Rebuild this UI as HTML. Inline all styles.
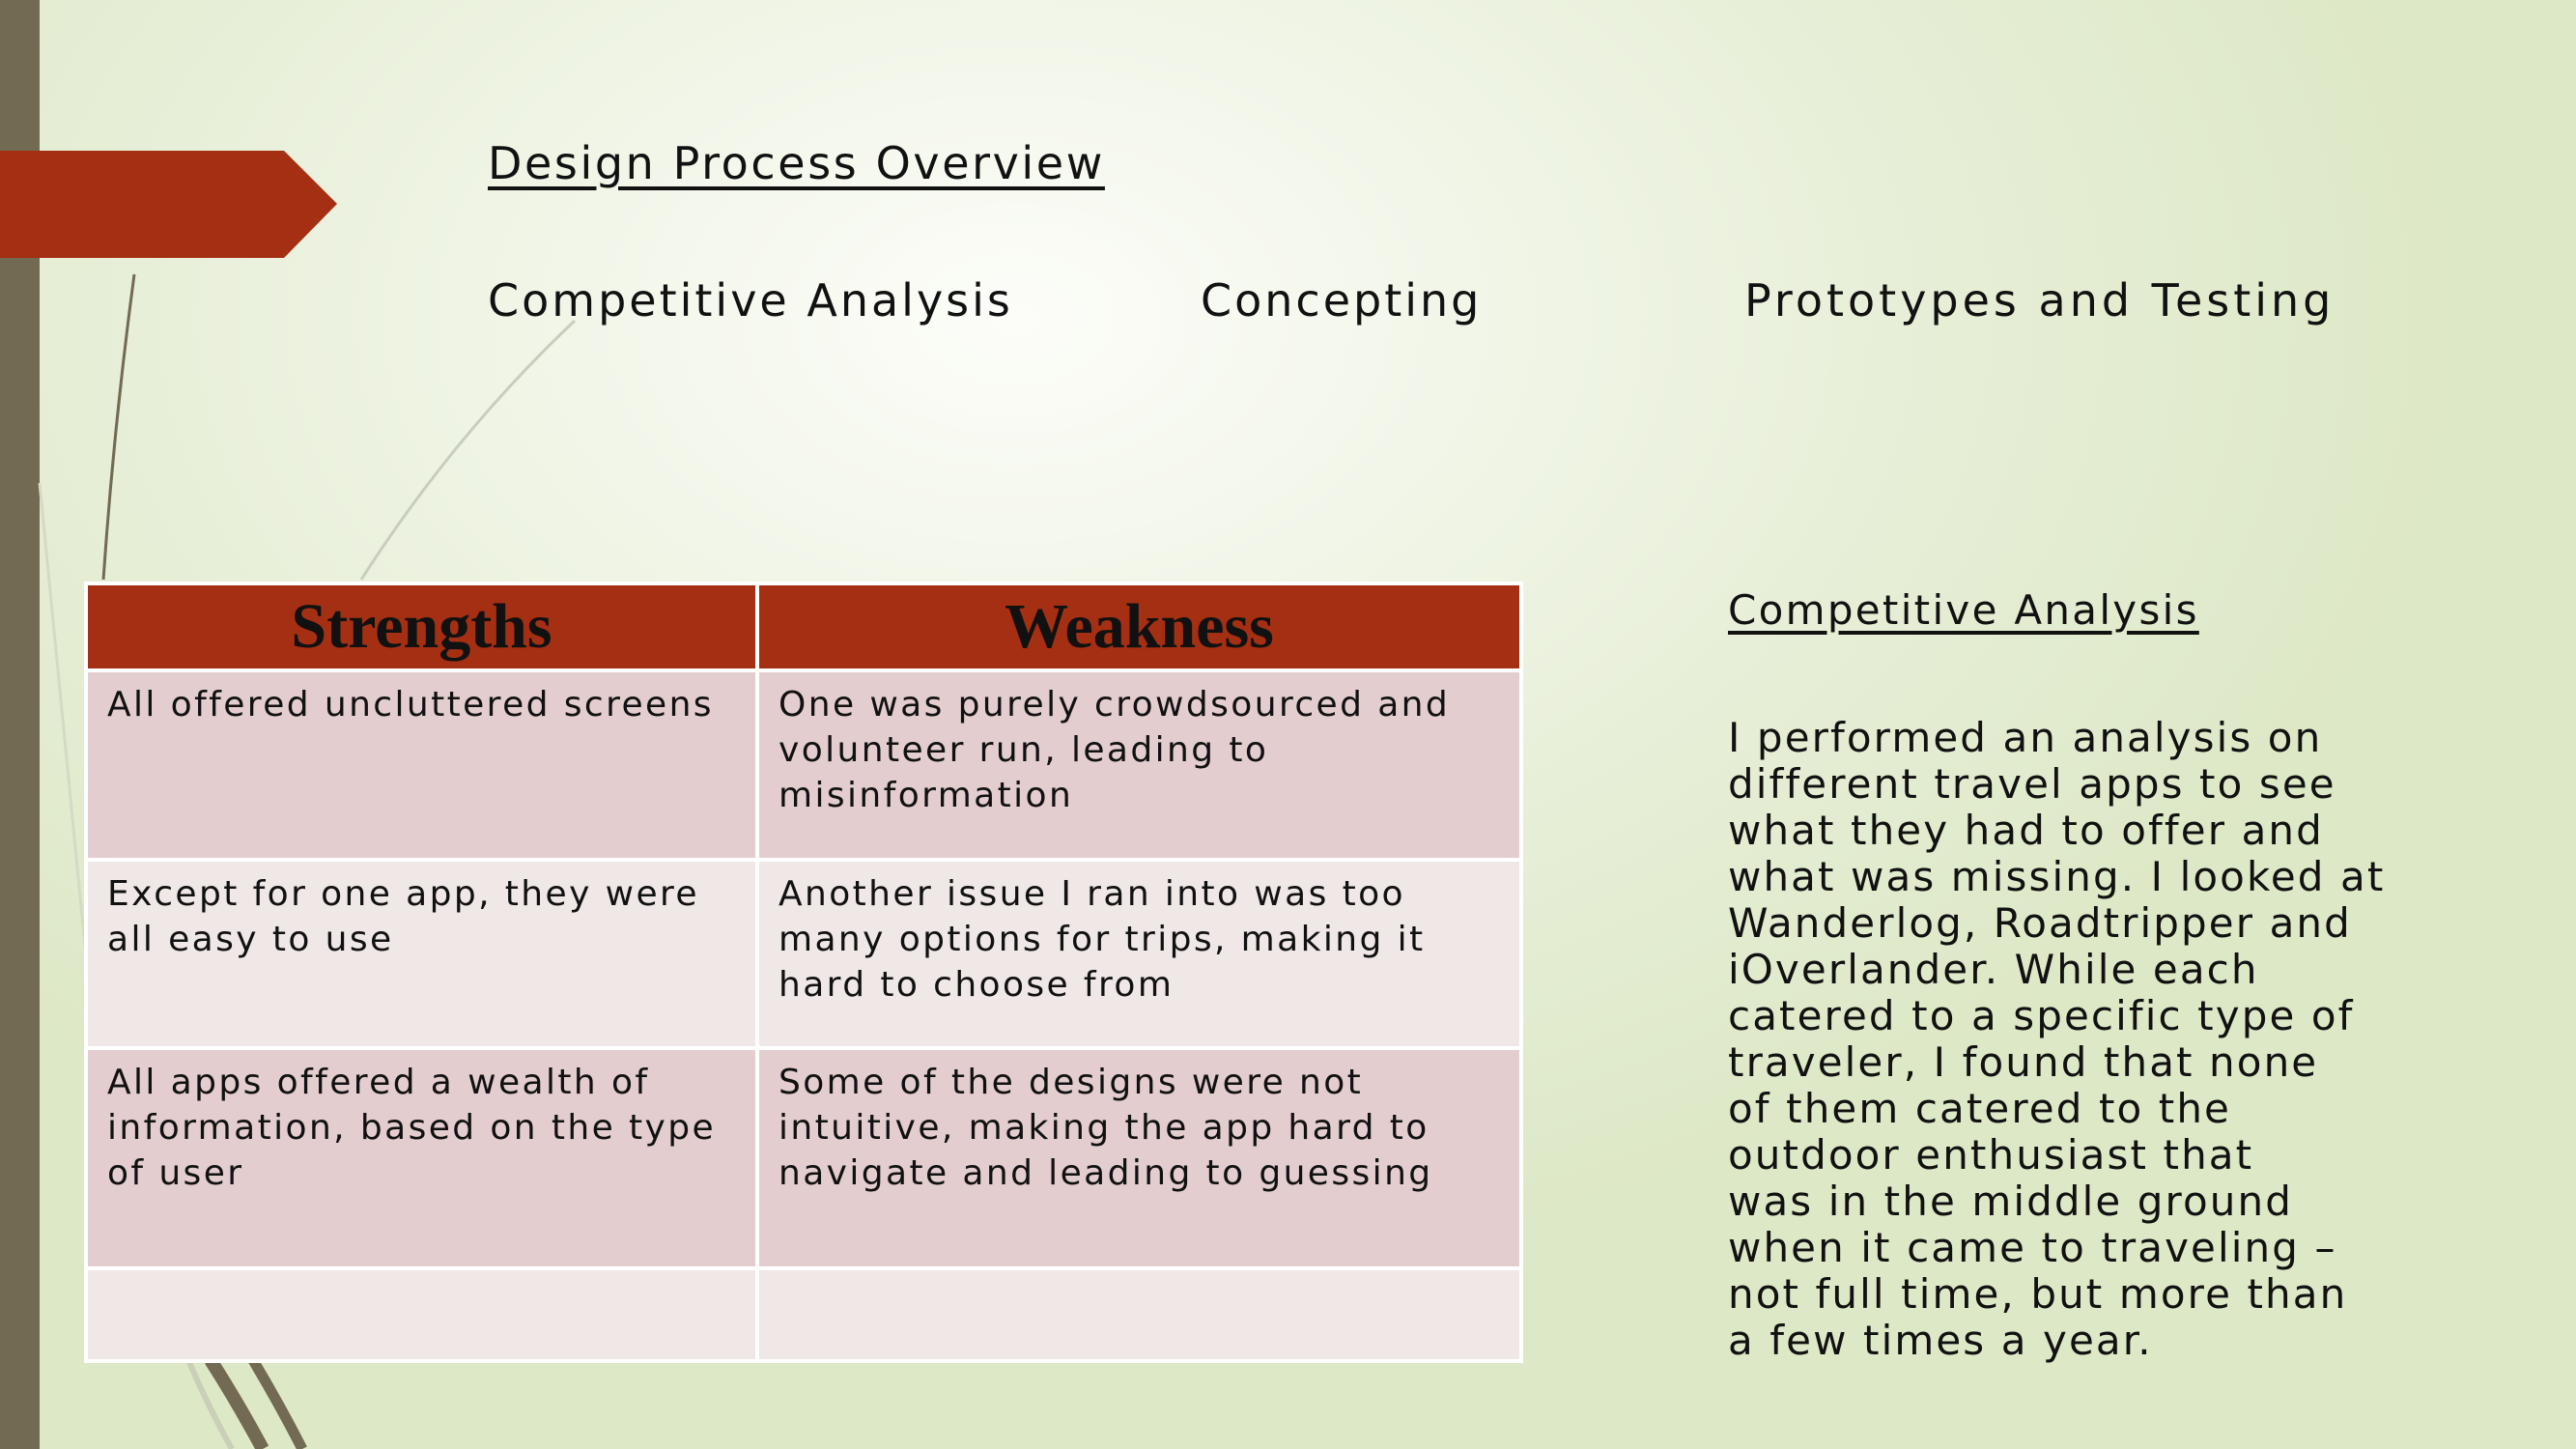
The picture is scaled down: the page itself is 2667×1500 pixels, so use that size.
<!DOCTYPE html>
<html><head><meta charset="utf-8"><style>
*{margin:0;padding:0;box-sizing:border-box}
body{width:2667px;height:1500px;overflow:hidden;position:relative;font-family:"DejaVu Sans","Liberation Sans",sans-serif;color:#111;
background:radial-gradient(ellipse 1500px 1000px at 1050px 330px,#fcfdf9 0%,#f2f6e9 30%,#e6eed6 65%,#dde8c6 100%);}
.a{position:absolute;white-space:nowrap}
.h{font-size:46px;letter-spacing:3px}
td{vertical-align:top;font-size:36px;letter-spacing:2.4px;line-height:47px;padding:10px 20px;}
</style></head><body>
<svg class="a" style="left:0;top:0" width="2667" height="1500">
<rect x="0" y="0" width="41" height="1500" fill="#726a52"/>
<path d="M139 284 Q118 440 107 600" stroke="#726a52" stroke-width="3" fill="none"/>
<path d="M595 332 Q470 450 374 600" stroke="#c9cdbd" stroke-width="3" fill="none"/>
<path d="M41 500 Q60 700 90 1000" stroke="#d4dac4" stroke-width="3" fill="none"/>
<path d="M218 1408 Q245 1450 272 1500" stroke="#726a52" stroke-width="14" fill="none"/>
<path d="M262 1408 Q290 1455 313 1500" stroke="#726a52" stroke-width="11" fill="none"/>
<path d="M195 1408 Q215 1455 240 1500" stroke="#c9cfb8" stroke-width="6" fill="none"/>
<polygon points="0,156 294,156 349,211 294,267 0,267" fill="#a52f12"/>
</svg>
<div class="a h" style="left:505px;top:142px;letter-spacing:2.6px;text-decoration:underline;text-underline-offset:8px">Design Process Overview</div>
<div class="a h" style="left:505px;top:284px">Competitive Analysis</div>
<div class="a h" style="left:1243px;top:284px">Concepting</div>
<div class="a h" style="left:1806px;top:284px;letter-spacing:4px">Prototypes and Testing</div>

<table class="a" style="left:87px;top:602px;width:1486px;height:805px;border-collapse:collapse;table-layout:fixed">
<colgroup><col style="width:695px"><col style="width:791px"></colgroup>
<tr style="height:90px;background:#a52f12">
<th style="font-family:'Liberation Serif',serif;font-size:66px;font-weight:bold;border:4px solid #fff;color:#111">Strengths</th>
<th style="font-family:'Liberation Serif',serif;font-size:66px;font-weight:bold;border:4px solid #fff;color:#111">Weakness</th></tr>
<tr style="height:196px;background:#e3cdcf"><td style="border:4px solid #fff">All offered uncluttered screens</td><td style="border:4px solid #fff">One was purely crowdsourced and<br>volunteer run, leading to<br>misinformation</td></tr>
<tr style="height:195px;background:#f0e7e7"><td style="border:4px solid #fff">Except for one app, they were<br>all easy to use</td><td style="border:4px solid #fff">Another issue I ran into was too<br>many options for trips, making it<br>hard to choose from</td></tr>
<tr style="height:228px;background:#e3cdcf"><td style="border:4px solid #fff">All apps offered a wealth of<br>information, based on the type<br>of user</td><td style="border:4px solid #fff">Some of the designs were not<br>intuitive, making the app hard to<br>navigate and leading to guessing</td></tr>
<tr style="height:96px;background:#f0e7e7"><td style="border:4px solid #fff"></td><td style="border:4px solid #fff"></td></tr>
</table>

<div class="a" style="left:1789px;top:607px;font-size:42px;letter-spacing:2.3px;text-decoration:underline;text-underline-offset:7px">Competitive Analysis</div>
<div class="a" style="left:1789px;top:740px;font-size:42px;letter-spacing:2.1px;line-height:48px">I performed an analysis on<br>different travel apps to see<br>what they had to offer and<br>what was missing. I looked at<br>Wanderlog, Roadtripper and<br>iOverlander. While each<br>catered to a specific type of<br>traveler, I found that none<br>of them catered to the<br>outdoor enthusiast that<br>was in the middle ground<br>when it came to traveling –<br>not full time, but more than<br>a few times a year.</div>
</body></html>
